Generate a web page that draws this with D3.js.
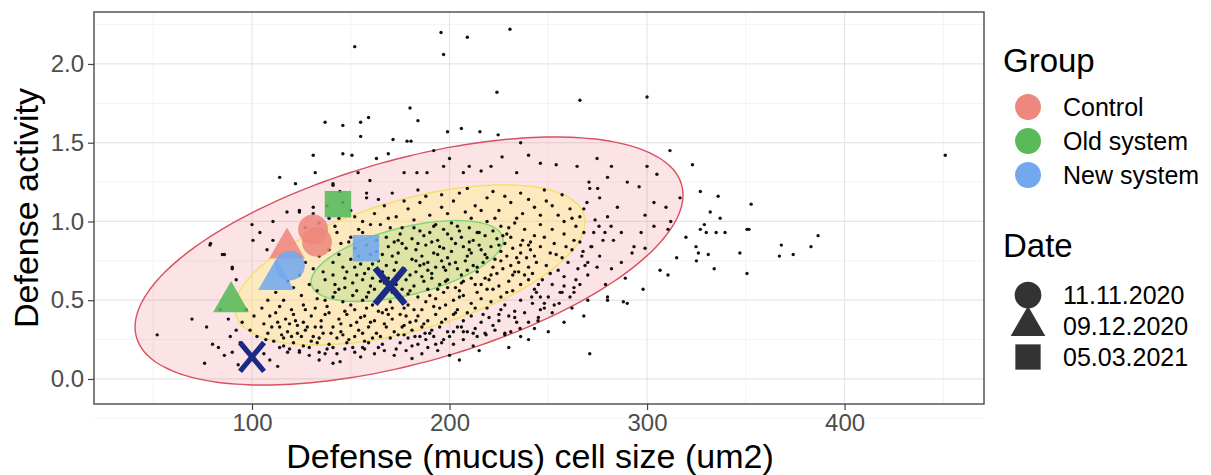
<!DOCTYPE html>
<html>
<head>
<meta charset="utf-8">
<script src="https://cdn.jsdelivr.net/npm/d3@7"></script>
<style>
  body { margin: 0; background: #fff; }
  text { font-family: "Liberation Sans", Arial, sans-serif; }
</style>
</head>
<body>
<div id="chart"></div>
<script>
const width = 1211;
const height = 475;

// axis ticks
const xTicks = [100, 200, 300, 400];
const xMinor = [50, 150, 250, 350, 450];
const yTicks = [0, 0.5, 1.0, 1.5, 2.0];
const yMinor = [-0.25, 0.25, 0.75, 1.25, 1.75, 2.25];

// legend
const groups = ["Control", "Old system", "New system"];
const groupColors = ["#ee877d", "#58ba58", "#72a9ee"];
const dates = ["11.11.2020", "09.12.2020", "05.03.2021"];
const dateShapes = ["circle", "triangle", "square"];

// group means (big symbols)
const markerGroup = ["Control", "Control", "Control", "Old system", "Old system", "New system", "New system", "New system"];
const markerDate = ["11.11.2020", "11.11.2020", "09.12.2020", "05.03.2021", "09.12.2020", "09.12.2020", "11.11.2020", "05.03.2021"];
const markerX = [130.9, 132.9, 117.7, 143.5, 89.4, 112.2, 119.2, 157.7];
const markerY = [0.95, 0.87, 0.83, 1.11, 0.49, 0.63, 0.72, 0.83];

// crosses
const crossX = [169.9, 100];
const crossY = [0.59, 0.14];
const crossSize = [1.0, 0.8];

// data ellipses: centre + two conjugate half-axes (data units)
const ellipseCx = [179.5, 180, 178.5];
const ellipseCy = [0.749, 0.724, 0.749];
const ellipseU = [[138.7, 0.419], [88.6, 0.273], [48.6, 0.133]];
const ellipseV = [[0, 0.667], [0, 0.429], [0, 0.22]];
const ellipseFill = ["rgba(238,120,130,0.2)", "rgba(255,240,140,0.45)", "rgba(160,220,120,0.35)"];
const ellipseStroke = ["#d9505e", "#f3df6a", "#7dd67a"];

// individual cells
const dotsCore = [
  [192,0.97],[201,0.99],[210,0.96],[219,1.0],[226,0.97],[233,0.99],[205,0.94],[214,0.93],[238,0.95],[197,0.95],[222,0.94],[229,0.92],
  [168,0.9],[175,0.92],[181,0.89],[187,0.91],[194,0.88],[199,0.92],[206,0.9],[212,0.88],[218,0.91],[224,0.89],[231,0.9],[237,0.88],[243,0.91],[172,0.87],[184,0.86],[190,0.93],[203,0.86],[215,0.85],[228,0.86],[240,0.85],
  [152,0.83],[158,0.85],[163,0.81],[169,0.84],[174,0.8],[178,0.83],[183,0.82],[188,0.85],[192,0.8],[197,0.83],[201,0.81],[207,0.84],[211,0.8],[216,0.82],[221,0.84],[226,0.81],[232,0.83],[236,0.8],[241,0.82],[246,0.84],[160,0.79],[171,0.78],[186,0.78],[199,0.77],[209,0.78],[219,0.77],[229,0.78],[239,0.77],
  [141,0.74],[146,0.71],[150,0.76],[155,0.73],[159,0.7],[164,0.75],[168,0.72],[173,0.74],[177,0.7],[181,0.76],[185,0.72],[189,0.74],[193,0.71],[196,0.75],[200,0.73],[204,0.7],[208,0.75],[212,0.72],[217,0.74],[222,0.71],[226,0.75],[231,0.72],[235,0.74],[240,0.71],[244,0.74],[148,0.68],[157,0.67],[166,0.68],[175,0.66],[183,0.68],[191,0.67],[198,0.69],[206,0.66],[214,0.68],[224,0.67],[233,0.68],[242,0.67],
  [137,0.63],[142,0.6],[147,0.64],[151,0.61],[156,0.63],[160,0.59],[165,0.62],[169,0.64],[173,0.6],[178,0.63],[182,0.59],[187,0.62],[191,0.64],[195,0.6],[199,0.63],[203,0.58],[207,0.62],[211,0.64],[216,0.6],[220,0.63],[225,0.59],[230,0.62],[236,0.6],[240,0.63],[144,0.57],[153,0.56],[162,0.57],[171,0.55],[180,0.56],[189,0.57],[197,0.55],[205,0.56],[214,0.55],[222,0.57],[232,0.56],
  [141,0.52],[146,0.49],[151,0.53],[156,0.5],[161,0.47],[166,0.52],[170,0.49],[175,0.51],[179,0.47],[184,0.52],[188,0.49],[193,0.51],[198,0.47],[202,0.5],[207,0.53],[211,0.48],[216,0.51],[221,0.49],[226,0.52],[158,0.45],[168,0.44],[177,0.45],[186,0.44],[195,0.45],[204,0.44],[213,0.45]
];

const dotsDense = [
  [147,0.58],[153,0.66],[161,0.73],[167,0.61],[172,0.69],[176,0.57],[183,0.75],[186,0.65],[190,0.53],[194,0.79],[198,0.62],[203,0.74],[205,0.52],[209,0.69],[213,0.6],[218,0.79],[221,0.66],[227,0.7],[229,0.55],[234,0.77],[238,0.66],[154,0.78],[158,0.52],[163,0.88],[170,0.96],[176,0.86],[179,0.54],[185,0.94],[189,0.69],[195,0.84],[199,0.58],[204,0.97],[210,0.82],[215,0.93],[219,0.57],[225,0.85],[230,0.96],[235,0.68],[241,0.87],[245,0.6],
  [133,0.51],[138,0.46],[142,0.55],[147,0.43],[150,0.47],[155,0.39],[159,0.55],[164,0.43],[167,0.35],[171,0.45],[174,0.28],[178,0.4],[182,0.44],[185,0.27],[187,0.35],[192,0.46],[196,0.36],[200,0.27],[203,0.42],[206,0.33],[209,0.42],[214,0.27],[217,0.41],[222,0.34],[226,0.44],[231,0.3],[119,0.35],[123,0.29],[127,0.44],[131,0.27],[135,0.33],[137,0.41],[140,0.29],[145,0.35],[149,0.25],[152,0.44],[156,0.29],[160,0.36],[165,0.27],[169,0.41],[173,0.19],[177,0.28],[181,0.21],[183,0.37],[189,0.2],[191,0.31],[116,0.21],[120,0.27],[122,0.37],[126,0.21],[128,0.33],[133,0.23],[137,0.16],[141,0.2],[146,0.28],[151,0.2],[155,0.14],[159,0.23],[164,0.2],[113,0.36],[115,0.28],[110,0.33],[107,0.25],[109,0.4],[105,0.45],
  [141,0.66],[144,0.79],[149,0.87],[152,0.71],[156,0.93],[161,0.64],[166,0.79],[170,0.58],[174,0.88],[180,0.66],[182,0.96],[187,0.73],[191,0.87],[194,0.57],[197,0.71],[201,0.89],[206,0.61],[210,0.87],[214,0.71],[218,0.64],[223,0.76],[227,0.91],[232,0.66],[236,0.85],[243,0.78],
  [135,0.92],[139,1.02],[146,1.12],[152,1.03],[160,0.98],[164,1.14],[169,1.02],[177,1.13],[182,1.01],[188,1.16],[193,0.98],[199,1.05],[205,1.18],[211,1.02],[216,1.07],[223,1.02],[228,1.16],[234,1.02],[240,1.14],[246,1.04],[252,1.1],[257,1.17],[262,1.02],[268,1.08],
  [251,0.67],[254,0.79],[259,0.84],[264,0.63],[266,0.87],[270,0.74],[273,0.93],[276,0.78],[261,0.52],[266,0.6],[253,0.47],[246,0.44],[240,0.36],[233,0.39],[236,0.27],[243,0.32]
];

const dotsMiddle = [
  [131,1.05],[138,1.1],[144,1.02],[150,1.07],[156,1.0],[162,1.05],[167,1.1],[173,1.03],[179,1.08],[185,1.12],[190,1.04],[196,1.09],[202,1.13],[208,1.06],[213,1.1],[219,1.15],[225,1.07],[231,1.12],[237,1.05],[243,1.09],[249,1.13],[255,1.04],[261,1.08],[158,1.15],[171,1.18],[184,1.2],[196,1.17],[209,1.21],[222,1.19],[236,1.18],[248,1.2],[142,0.97],[154,0.95],[165,0.98],[176,0.96],[246,0.98],[252,0.95],[258,1.0],[264,0.97],[134,0.99],[127,0.96],
  [248,0.9],[253,0.86],[258,0.92],[263,0.88],[268,0.93],[251,0.8],[257,0.77],[262,0.82],[267,0.78],[272,0.84],[249,0.72],[255,0.69],[260,0.74],[265,0.7],[270,0.66],[247,0.63],[252,0.6],[258,0.65],[263,0.58],[244,0.55],[250,0.52],[256,0.55],[242,0.48],[248,0.45],[238,0.42],[245,0.39],
  [112,0.55],[116,0.5],[121,0.58],[125,0.53],[129,0.6],[133,0.56],[118,0.62],[124,0.66],[131,0.7],[136,0.68],[127,0.74],[134,0.78],[139,0.82],[145,0.86],[150,0.9],[143,0.93],[114,0.46],[120,0.44],[126,0.47],[132,0.45],[137,0.5],[108,0.5],
  [219,0.45],[228,0.47],[233,0.43],[236,0.5]
];

const dotsLower = [
  [112,0.42],[117,0.38],[121,0.41],[126,0.36],[130,0.4],[135,0.37],[139,0.42],[144,0.38],[148,0.41],[153,0.36],[157,0.4],[162,0.37],[166,0.42],[171,0.38],[175,0.41],[180,0.36],[184,0.4],[189,0.37],[193,0.41],[198,0.38],[202,0.41],[207,0.37],[211,0.4],[216,0.36],[220,0.39],[225,0.37],[230,0.4],[234,0.36],
  [114,0.33],[118,0.3],[123,0.34],[127,0.31],[132,0.33],[136,0.29],[141,0.33],[145,0.3],[150,0.34],[154,0.31],[159,0.33],[163,0.29],[168,0.33],[172,0.3],[177,0.34],[181,0.31],[186,0.33],[190,0.29],[195,0.33],[199,0.3],[204,0.33],[209,0.3],[213,0.32],[218,0.29],[223,0.31],[228,0.28],
  [116,0.26],[121,0.23],[125,0.27],[130,0.24],[134,0.26],[139,0.22],[143,0.26],[148,0.23],[152,0.27],[157,0.24],[161,0.26],[166,0.22],[170,0.26],[175,0.23],[179,0.26],[184,0.22],[188,0.25],[193,0.22],[197,0.25],[202,0.22],[207,0.25],[212,0.21],
  [119,0.19],[124,0.17],[129,0.2],[134,0.17],[138,0.19],[143,0.16],[147,0.19],[152,0.17],[157,0.19],[162,0.16],[167,0.18],[172,0.15],[178,0.18],[186,0.16],[194,0.18],[200,0.15],
  [69.6,0.38],[52,0.28],[77,0.33],[80,0.22],[76,0.1],[83,0.2],[86,0.15],[89,0.27],[92,0.31],[94,0.23],[90,0.17],[97.5,0.18],[102.5,0.27],[104,0.2],[109,0.12],[114,0.2],[118,0.17],[124,0.18],[129,0.15],[134,0.12],[141,0.1],[144.6,0.11],[156,0.2],[181,0.13],
  [95,0.36],[99,0.31],[106,0.35],[101,0.4],[97,0.44],[108,0.29],[111,0.24],[106,0.16],[93,0.09],[113,0.08],[88,0.38],[84,0.44]
];

const dotsOuter = [
  [79,0.86],[86,0.79],[90,0.7],[92,0.63],[100,0.98],[100.5,0.88],[104,0.93],[110.6,1.0],[117.7,1.06],[124,1.06],[110.6,0.88],[107.6,0.82],[131,1.09],[141,1.23],[158,1.18],
  [137,1.63],[146,1.61],[155,1.63],[159,1.66],[155,1.54],[150.6,1.42],[146,1.43],[131,1.42],[132,1.31],[122,1.24],[114,1.28],[124,1.07],[141,1.24],[144.5,1.19],[153.7,1.31],[159.7,1.26],[163,1.4],[169,1.43],[171.4,1.52],[78.7,0.85],[85,0.79],[90,0.71],
  [180,1.72],[184,1.64],[199,1.57],[206,1.59],[215.4,1.57],[224.6,1.55],[178.5,1.51],[180.5,1.51],[236,1.5],[226.6,1.41],[246,1.37],[240,1.42],[234,1.31],[221,1.35],[216,1.32],[210,1.35],[207,1.31],[197,1.35],[188.6,1.31],[183.5,1.31],[177,1.31],[192,1.45],[200,1.4],
  [254,1.36],[264.6,1.35],[270.6,1.25],[274.7,1.4],[280,1.28],[282,1.35],[290,1.25],[296,1.22],[300,1.35],[305,1.3],[316.7,1.15],[309.6,1.09],[303.5,1.12],[299,1.04],[303.5,0.97],[312,1.0],[310.6,0.95],[297,0.93],[293.4,0.84],[299,0.83],[292.4,0.8],[287,0.93],[280,1.03],[285,1.09],[271,1.21],[275,1.21],[276,1.15],[269.6,1.12],[266,1.03],[273.7,1.01],[278.7,0.93],[275.7,0.97],[281.8,0.97],[277.7,0.88],[283,0.88],[271.6,0.84],[267.6,0.81],[268.6,0.72],[274.7,0.71],[282,0.7],[287,0.74],[289,0.64],[279,0.6],[258,0.59],[257,0.55],[263,0.55],[255.5,0.48],[243,0.57],[241.6,0.52],[246,0.52],[248,0.48],[252,0.42],[244.8,0.37],[235.7,0.32],[225,0.41],[228,0.29],[218.5,0.28],[212,0.29],[207,0.3],[202,0.3],[196,0.23],[192,0.27],[187.6,0.29],[182.5,0.27],[176,0.33],
  [270,0.5],[262,0.45],[280,0.52],[290,0.48],[268,0.4],[258,0.36],[250,0.3],[240,0.25],[230,0.2],[215,0.18],[205,0.12]
];

const dotsOutliers = [
  [152,2.11],[195.7,2.2],[197,2.06],[209,2.17],[230.6,2.22],[224,1.82],[266,1.77],[300,1.79],[451,1.42],
  [311.6,1.45],[323,1.36],[327,1.19],[336,1.16],[352.7,1.11],[332,1.06],[337,1.02],[329,0.98],[327,0.95],[330,0.93],[335,0.93],[339.5,0.93],[350.6,0.95],[351.6,0.95],[319.7,0.9],[386.6,0.91],[368,0.85],[383,0.84],[315,0.77],[324.8,0.84],[326,0.8],[331,0.79],[325,0.75],[347,0.8],[367,0.78],[374,0.79],[334,0.7],[350.6,0.67],[306.6,0.69],[310.6,0.66],[271,0.16],[288,0.49],[280,0.5],[298,0.57]
];

const margin = { top: 12, right: 227, bottom: 71, left: 94 };

const x = d3.scaleLinear()
  .domain([20, 470.6])
  .range([margin.left, width - margin.right]);

const y = d3.scaleLinear()
  .domain([-0.159, 2.33])
  .range([height - margin.bottom, margin.top]);

const svg = d3.select("#chart")
  .append("svg")
  .attr("width", width)
  .attr("height", height);

// grid
const grid = svg.append("g");
grid.selectAll(".xminor").data(xMinor).join("line")
  .attr("x1", d => x(d)).attr("x2", d => x(d))
  .attr("y1", margin.top).attr("y2", height - margin.bottom)
  .attr("stroke", "#f3f3f3").attr("stroke-width", 1);
grid.selectAll(".yminor").data(yMinor).join("line")
  .attr("y1", d => y(d)).attr("y2", d => y(d))
  .attr("x1", margin.left).attr("x2", width - margin.right)
  .attr("stroke", "#f3f3f3").attr("stroke-width", 1);
grid.selectAll(".xmajor").data(xTicks).join("line")
  .attr("x1", d => x(d)).attr("x2", d => x(d))
  .attr("y1", margin.top).attr("y2", height - margin.bottom)
  .attr("stroke", "#e6e6e6").attr("stroke-width", 1.2);
grid.selectAll(".ymajor").data(yTicks).join("line")
  .attr("y1", d => y(d)).attr("y2", d => y(d))
  .attr("x1", margin.left).attr("x2", width - margin.right)
  .attr("stroke", "#e6e6e6").attr("stroke-width", 1.2);

// ellipses
const ellipsePath = function(i) {
  const pts = d3.range(0, 361, 3).map(function(deg) {
    const t = deg * Math.PI / 180;
    const vx = ellipseCx[i] + Math.cos(t) * ellipseU[i][0] + Math.sin(t) * ellipseV[i][0];
    const vy = ellipseCy[i] + Math.cos(t) * ellipseU[i][1] + Math.sin(t) * ellipseV[i][1];
    return [x(vx), y(vy)];
  });
  return d3.line().curve(d3.curveCardinalClosed)(pts.slice(0, -1));
};

svg.append("g").selectAll("path")
  .data(d3.range(ellipseCx.length))
  .join("path")
    .attr("d", d => ellipsePath(d))
    .attr("fill", d => ellipseFill[d])
    .attr("stroke", d => ellipseStroke[d])
    .attr("stroke-width", 1.4);

// dots
const allDots = dotsCore.concat(dotsDense, dotsMiddle, dotsLower, dotsOuter, dotsOutliers);
svg.append("g").selectAll("circle")
  .data(allDots)
  .join("circle")
    .attr("cx", d => x(d[0]))
    .attr("cy", d => y(d[1]))
    .attr("r", 1.7)
    .attr("fill", "#111");

// big symbols
const symbolOf = {
  circle: d3.symbol().type(d3.symbolCircle).size(700),
  triangle: d3.symbol().type(d3.symbolTriangle).size(560),
  square: d3.symbol().type(d3.symbolSquare).size(700)
};

svg.append("g").selectAll("path")
  .data(d3.range(markerX.length))
  .join("path")
    .attr("d", i => symbolOf[dateShapes[dates.indexOf(markerDate[i])]]())
    .attr("transform", i => `translate(${x(markerX[i])},${y(markerY[i])})`)
    .attr("fill", i => groupColors[groups.indexOf(markerGroup[i])])
    .attr("opacity", 0.88);

// crosses
svg.append("g").selectAll("path")
  .data(d3.range(crossX.length))
  .join("path")
    .attr("transform", i => `translate(${x(crossX[i])},${y(crossY[i])}) scale(${crossSize[i]})`)
    .attr("d", "M-15,-18L15,18M15,-18L-15,18")
    .attr("stroke", "#1b2a84")
    .attr("stroke-width", 6.5)
    .attr("fill", "none");

// panel border
svg.append("rect")
  .attr("x", margin.left)
  .attr("y", margin.top)
  .attr("width", width - margin.right - margin.left)
  .attr("height", height - margin.bottom - margin.top)
  .attr("fill", "none")
  .attr("stroke", "#555")
  .attr("stroke-width", 1.5);

// axes
const xAxis = svg.append("g")
  .attr("transform", `translate(0,${height - margin.bottom})`)
  .call(d3.axisBottom(x).tickValues(xTicks).tickSize(6).tickPadding(4));
const yAxis = svg.append("g")
  .attr("transform", `translate(${margin.left},0)`)
  .call(d3.axisLeft(y).tickValues(yTicks).tickFormat(d3.format(".1f")).tickSize(6).tickPadding(4));

[xAxis, yAxis].forEach(function(ax) {
  ax.select(".domain").remove();
  ax.selectAll(".tick line").attr("stroke", "#444").attr("stroke-width", 1.2);
  ax.selectAll(".tick text")
    .attr("fill", "#4d4d4d")
    .style("font-size", "24px")
    .style("font-family", "'Liberation Sans', Arial, sans-serif");
});

// axis titles
svg.append("text")
  .attr("x", 530)
  .attr("y", 468)
  .attr("text-anchor", "middle")
  .style("font-size", "34px")
  .text("Defense (mucus) cell size (um2)");

svg.append("text")
  .attr("transform", "translate(38,208) rotate(-90)")
  .attr("text-anchor", "middle")
  .style("font-size", "34px")
  .text("Defense activity");

// legend
const legend = svg.append("g");
legend.append("text")
  .attr("x", 1003).attr("y", 72)
  .style("font-size", "33px")
  .text("Group");

legend.selectAll(".gkey").data(groups).join("circle")
  .attr("cx", 1028)
  .attr("cy", (d, i) => 107 + i * 34)
  .attr("r", 13)
  .attr("fill", (d, i) => groupColors[i]);

legend.selectAll(".glab").data(groups).join("text")
  .attr("x", 1063)
  .attr("y", (d, i) => 116 + i * 34)
  .style("font-size", "25px")
  .text(d => d);

legend.append("text")
  .attr("x", 1003).attr("y", 257)
  .style("font-size", "33px")
  .text("Date");

const legendSymbol = {
  circle: d3.symbol().type(d3.symbolCircle).size(560),
  triangle: d3.symbol().type(d3.symbolTriangle).size(520),
  square: d3.symbol().type(d3.symbolSquare).size(640)
};

legend.selectAll(".dkey").data(dates).join("path")
  .attr("d", (d, i) => legendSymbol[dateShapes[i]]())
  .attr("transform", (d, i) => `translate(1028,${295 + i * 31})`)
  .attr("fill", "#333");

legend.selectAll(".dlab").data(dates).join("text")
  .attr("x", 1063)
  .attr("y", (d, i) => 304 + i * 31)
  .style("font-size", "25px")
  .text(d => d);
</script>
</body>
</html>
